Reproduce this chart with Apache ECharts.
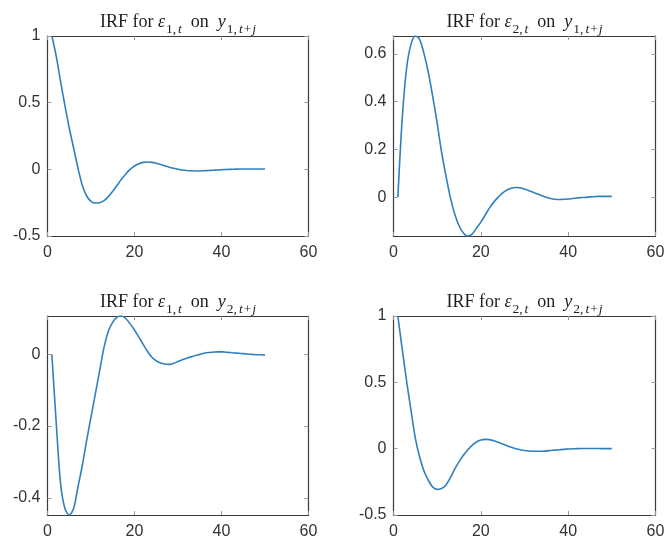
<!DOCTYPE html>
<html>
<head>
<meta charset="utf-8">
<script src="https://cdn.jsdelivr.net/npm/echarts@6/dist/echarts.min.js"></script>
<style>
  html, body { margin: 0; padding: 0; background: #ffffff; }
  #chart { width: 668px; height: 546px; }
</style>
</head>
<body>
<div id="chart"></div>
<script>
// Forecast horizons j (periods after the shock)
const horizons = [1, 2, 3, 4, 5, 6, 7, 8, 9, 10, 11, 12, 13, 14, 15, 16, 17, 18, 19, 20,
  21, 22, 23, 24, 25, 26, 27, 28, 29, 30, 31, 32, 33, 34, 35, 36, 37, 38, 39, 40,
  41, 42, 43, 44, 45, 46, 47, 48, 49, 50];

// Impulse responses of y1 and y2 to the structural shocks e1 and e2
const irfE1onY1 = [1.00, 0.85, 0.66, 0.48, 0.31, 0.16, 0.01, -0.12, -0.20, -0.24,
  -0.253, -0.25, -0.235, -0.205, -0.165, -0.12, -0.075, -0.035, 0.0, 0.025,
  0.042, 0.052, 0.055, 0.052, 0.045, 0.036, 0.026, 0.016, 0.008, 0.001,
  -0.005, -0.009, -0.011, -0.012, -0.012, -0.011, -0.009, -0.007, -0.005, -0.003,
  -0.001, 0.0, 0.001, 0.002, 0.002, 0.002, 0.002, 0.002, 0.002, 0.002];

const irfE2onY1 = [0.0, 0.33, 0.54, 0.64, 0.675, 0.66, 0.60, 0.52, 0.42, 0.31,
  0.19, 0.09, 0.0, -0.07, -0.12, -0.15, -0.163, -0.155, -0.13, -0.105,
  -0.075, -0.045, -0.02, 0.0, 0.018, 0.03, 0.037, 0.04, 0.039, 0.034,
  0.027, 0.02, 0.013, 0.006, -0.001, -0.006, -0.009, -0.01, -0.009, -0.008,
  -0.006, -0.004, -0.002, -0.001, 0.001, 0.002, 0.003, 0.003, 0.003, 0.003];

const irfE1onY2 = [0.0, -0.19, -0.36, -0.43, -0.448, -0.43, -0.37, -0.31, -0.24, -0.175,
  -0.11, -0.045, 0.02, 0.065, 0.09, 0.104, 0.107, 0.10, 0.085, 0.068,
  0.048, 0.028, 0.008, -0.008, -0.018, -0.024, -0.027, -0.028, -0.025, -0.02,
  -0.015, -0.011, -0.007, -0.003, 0.0, 0.003, 0.005, 0.006, 0.007, 0.007,
  0.006, 0.005, 0.004, 0.003, 0.002, 0.001, 0.0, -0.001, -0.001, -0.002];

const irfE2onY2 = [1.00, 0.75, 0.51, 0.29, 0.08, -0.065, -0.17, -0.24, -0.29, -0.307,
  -0.30, -0.275, -0.22, -0.155, -0.10, -0.05, -0.01, 0.025, 0.05, 0.065,
  0.07, 0.068, 0.06, 0.048, 0.035, 0.022, 0.01, 0.0, -0.008, -0.014,
  -0.018, -0.02, -0.02, -0.019, -0.017, -0.014, -0.011, -0.008, -0.005, -0.003,
  -0.001, 0.0, 0.001, 0.001, 0.001, 0.001, 0.001, 0.0, 0.0, 0.0];

// Tick values
const xTicks = [0, 20, 40, 60];
const yTicksUnit = [-0.5, 0, 0.5, 1];
const yTicksE2onY1 = [0, 0.2, 0.4, 0.6];
const yTicksE1onY2 = [-0.4, -0.2, 0];

// Panel subscripts: shock index and variable index
const shockIdx = ['1', '2', '1', '2'];
const varIdx = ['1', '1', '2', '2'];

// Layout of the 2x2 subplot grid (pixels)
const layout = [
  { left: 47.5, top: 36, width: 261, height: 200 },
  { left: 393.5, top: 36, width: 262, height: 200 },
  { left: 47.5, top: 316, width: 261, height: 199 },
  { left: 393.5, top: 316, width: 262, height: 199 }
];

const lineColor = '#3080be';
const boxColor = '#3a3a3a';
const labelColor = '#333333';

const panels = [
  { values: irfE1onY1, yMin: -0.5, yMax: 1, ticks: yTicksUnit },
  { values: irfE2onY1, yMin: Math.min(...irfE2onY1), yMax: Math.max(...irfE2onY1), ticks: yTicksE2onY1 },
  { values: irfE1onY2, yMin: Math.min(...irfE1onY2), yMax: Math.max(...irfE1onY2), ticks: yTicksE1onY2 },
  { values: irfE2onY2, yMin: -0.5, yMax: 1, ticks: yTicksUnit }
];

const grids = [], xAxes = [], yAxes = [], series = [], titles = [];

const tickStyle = { show: true, inside: true, length: 4, lineStyle: { color: '#9a9a9a', width: 1 } };
const lineStyle = { show: true, onZero: false, lineStyle: { color: boxColor, width: 1.2 } };
const labelStyle = { color: labelColor, fontFamily: 'Liberation Sans', fontSize: 16 };

// Title: serif text with math-italic symbols and lowered subscripts
const serif = 'Liberation Serif';
const txtColor = '#1e1e1e';
const rich = {
  n: { fontFamily: serif, fontWeight: 'normal', fontSize: 18, color: txtColor, lineHeight: 20, verticalAlign: 'top' },
  m: { fontFamily: serif, fontWeight: 'normal', fontStyle: 'italic', fontSize: 18, color: txtColor, lineHeight: 20, verticalAlign: 'top' },
  sc: { fontFamily: serif, fontWeight: 'normal', fontSize: 13.5, color: txtColor, lineHeight: 13, padding: [9, 2, 0, 1], verticalAlign: 'top' },
  so: { fontFamily: serif, fontWeight: 'normal', fontSize: 13.5, color: txtColor, lineHeight: 13, padding: [9, 1, 0, 1], verticalAlign: 'top' },
  s: { fontFamily: serif, fontWeight: 'normal', fontStyle: 'italic', fontSize: 13.5, color: txtColor, lineHeight: 13, padding: [9, 0, 0, 0], verticalAlign: 'top' }
};

panels.forEach((p, i) => {
  const g = layout[i];
  grids.push({ left: g.left, top: g.top, width: g.width, height: g.height, containLabel: false, outerBoundsMode: 'none' });

  // bottom and top x axes (box outline with inward ticks)
  xAxes.push({
    gridIndex: i, type: 'value', position: 'bottom', min: xTicks[0], max: xTicks[xTicks.length - 1], interval: 20,
    axisLine: lineStyle, axisTick: tickStyle, splitLine: { show: false },
    axisLabel: Object.assign({ margin: 9 }, labelStyle)
  });
  xAxes.push({
    gridIndex: i, type: 'value', position: 'top', min: xTicks[0], max: xTicks[xTicks.length - 1], interval: 20,
    axisLine: lineStyle, axisTick: tickStyle, splitLine: { show: false },
    axisLabel: { show: false }
  });

  // left and right y axes
  yAxes.push({
    gridIndex: i, type: 'value', position: 'left', min: p.yMin, max: p.yMax,
    axisLine: lineStyle, splitLine: { show: false },
    axisTick: Object.assign({ customValues: p.ticks }, tickStyle),
    axisLabel: Object.assign({ margin: 7, customValues: p.ticks }, labelStyle)
  });
  yAxes.push({
    gridIndex: i, type: 'value', position: 'right', min: p.yMin, max: p.yMax,
    axisLine: lineStyle, splitLine: { show: false },
    axisTick: Object.assign({ customValues: p.ticks }, tickStyle),
    axisLabel: { show: false }
  });

  series.push({
    type: 'line', xAxisIndex: 2 * i, yAxisIndex: 2 * i,
    data: horizons.map((h, k) => [h, p.values[k]]),
    showSymbol: false, smooth: 0.3, silent: true,
    lineStyle: { color: lineColor, width: 1.6 }
  });

  titles.push({
    left: g.left + g.width / 2, top: g.top - 23, textAlign: 'center', padding: 0,
    text: '{n|IRF for }{m|\u03b5}{sc|' + shockIdx[i] + ',}{s|t}{n|  on  }{m|y}{sc|' + varIdx[i] + ',}{s|t}{so|+}{s|j}',
    textStyle: { fontWeight: 'normal', rich: rich }
  });
});

const chart = echarts.init(document.getElementById('chart'), null, { renderer: 'canvas' });
chart.setOption({
  animation: false,
  backgroundColor: '#ffffff',
  title: titles,
  grid: grids,
  xAxis: xAxes,
  yAxis: yAxes,
  series: series
});
</script>
</body>
</html>
